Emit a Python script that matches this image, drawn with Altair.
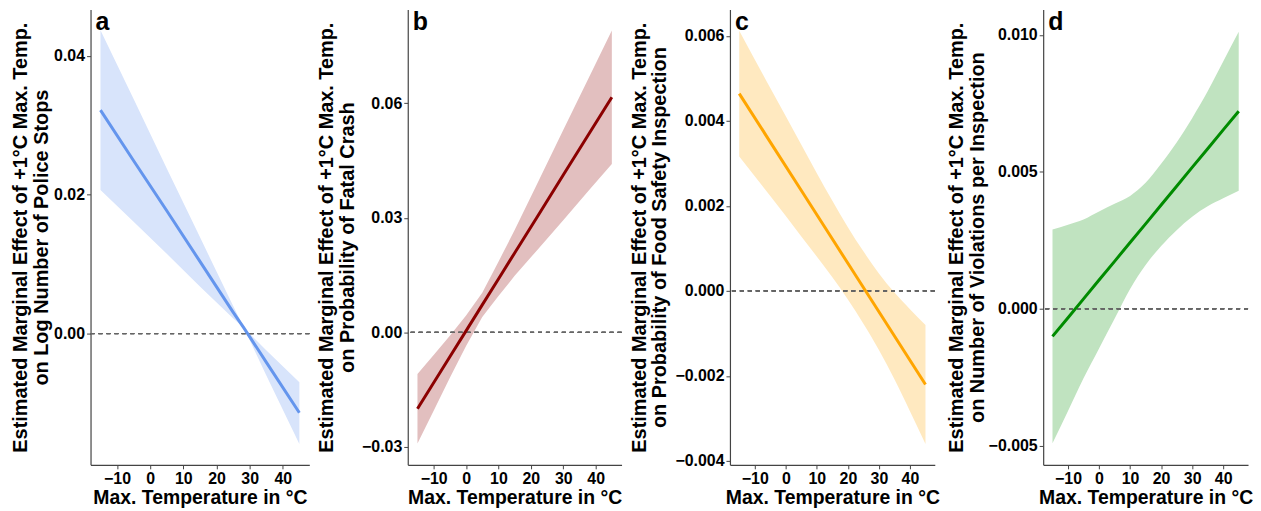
import altair as alt
import pandas as pd

# ---------------- data ----------------
temp_a = [-15, -5, 5, 15, 25, 28.3, 35, 45]
fit_a = [0.0322, 0.0249, 0.0177, 0.0104, 0.0031, 0.0008, -0.0041, -0.0114]
lo_a = [0.0207, 0.0161, 0.0115, 0.0068, 0.0022, 0.0008, -0.0060, -0.0159]
hi_a = [0.0437, 0.0338, 0.0238, 0.0139, 0.0040, 0.0008, -0.0024, -0.0070]

temp_b = [-15, -10, -5, 0, 5, 10, 15, 22, 30, 38, 45]
fit_b = [-0.0200, -0.0132, -0.0064, 0.0004, 0.0072, 0.0140, 0.0208, 0.0303, 0.0412, 0.0521, 0.0616]
lo_b = [-0.0291, -0.0205, -0.0119, -0.0036, 0.0040, 0.0095, 0.0148, 0.0216, 0.0294, 0.0373, 0.0441]
hi_b = [-0.0109, -0.0059, -0.0009, 0.0044, 0.0104, 0.0185, 0.0268, 0.0390, 0.0530, 0.0669, 0.0791]

temp_c = [-15, -5, 5, 15, 20, 25, 30, 35, 40, 45]
fit_c = [0.00464, 0.00350, 0.00236, 0.00122, 0.00065, 0.00008, -0.00049, -0.00106, -0.00163, -0.00220]
lo_c = [0.00316, 0.00223, 0.00128, 0.00032, -0.00020, -0.00077, -0.00139, -0.00208, -0.00283, -0.00360]
hi_c = [0.00612, 0.00477, 0.00344, 0.00212, 0.00150, 0.00093, 0.00041, -0.00004, -0.00043, -0.00080]

temp_d = [-15, -10, -5, 0, 5, 10, 15, 20, 25, 30, 35, 40, 45]
fit_d = [-0.00101, -0.00033, 0.00036, 0.00105, 0.00173, 0.00242, 0.00310, 0.00379, 0.00447, 0.00516, 0.00584, 0.00653, 0.00721]
lo_d = [-0.00491, -0.00373, -0.00254, -0.00145, -0.00037, 0.00072, 0.00160, 0.00229, 0.00287, 0.00336, 0.00374, 0.00403, 0.00431]
hi_d = [0.00289, 0.00307, 0.00326, 0.00355, 0.00383, 0.00412, 0.00460, 0.00529, 0.00607, 0.00696, 0.00794, 0.00903, 0.01011]

x_ticks = [-10, 0, 10, 20, 30, 40]
x_title = "Max. Temperature in °C"
y_title_top = "Estimated Marginal Effect of +1°C Max. Temp."
y_sub = ["on Log Number of Police Stops", "on Probability of Fatal Crash",
         "on Probability of Food Safety Inspection", "on Number of Violations per Inspection"]
letters = ["a", "b", "c", "d"]
line_colors = ["#6495ED", "#8B0000", "#FFA500", "#008B00"]
fill_colors = ["#d8e4fb", "#e2bfbf", "#ffe9c0", "#c0e3c0"]
y_domains = [[-0.0189, 0.0467], [-0.0347, 0.0846], [-0.00409, 0.00662], [-0.0057, 0.01093]]
y_ticks = [[0.0, 0.02, 0.04], [-0.03, 0.0, 0.03, 0.06],
           [-0.004, -0.002, 0.0, 0.002, 0.004, 0.006], [-0.005, 0.0, 0.005, 0.010]]
y_formats = [".2f", ".2f", ".3f", ".3f"]
widths = [220, 215, 206, 206]
title_pads = [2, 4, 5, 1]
interps = ["linear", "linear", "monotone", "monotone"]

series = [(temp_a, fit_a, lo_a, hi_a), (temp_b, fit_b, lo_b, hi_b),
          (temp_c, fit_c, lo_c, hi_c), (temp_d, fit_d, lo_d, hi_d)]

H = 458


def panel(i):
    t, f, lo, hi = series[i]
    df = pd.DataFrame({"temp": t, "fit": f, "lo": lo, "hi": hi})
    xenc = alt.X("temp:Q", scale=alt.Scale(domain=[-18, 48], nice=False, zero=False),
                 axis=alt.Axis(values=x_ticks, title=x_title))
    yaxis = alt.Axis(values=y_ticks[i], format=y_formats[i], title=[y_title_top, y_sub[i]],
                     titlePadding=title_pads[i])
    yscale = alt.Scale(domain=y_domains[i], nice=False, zero=False)
    area = alt.Chart(df).mark_area(color=fill_colors[i], opacity=1, interpolate=interps[i]).encode(
        x=xenc, y=alt.Y("lo:Q", scale=yscale, axis=yaxis), y2="hi:Q")
    rule = alt.Chart(df).mark_rule(color="#666666", strokeDash=[4, 4], strokeWidth=1).encode(
        y=alt.datum(0))
    line = alt.Chart(df).mark_line(color=line_colors[i], strokeWidth=3).encode(
        x=xenc, y=alt.Y("fit:Q", scale=yscale, axis=yaxis))
    txt = alt.Chart(pd.DataFrame({"lab": [letters[i]]})).mark_text(
        align="left", baseline="top", fontSize=25, fontWeight="bold", color="black",
        font="Liberation Sans").encode(x=alt.value(5), y=alt.value(1), text="lab:N")
    return alt.layer(area, rule, line, txt).properties(width=widths[i], height=H)


chart = alt.hconcat(*[panel(i) for i in range(4)], spacing=6).properties(
    padding={"left": 2, "top": 0, "right": 0, "bottom": 0}
).configure(font="Liberation Sans").configure_view(stroke=None).configure_axis(
    grid=False,
    domainColor="#444444", domainWidth=1.2,
    tickColor="#444444", tickSize=4, tickWidth=1,
    labelFont="Liberation Sans", labelFontSize=16, labelFontWeight="bold", labelColor="black",
    labelPadding=2,
    titleFont="Liberation Sans", titleFontSize=20, titleFontWeight="bold", titleColor="black",
    titleLineHeight=21,
).configure_axisX(titlePadding=2, titleFontSize=19.5)

chart.save("out.html", embed_options={"renderer": "svg", "actions": False})
